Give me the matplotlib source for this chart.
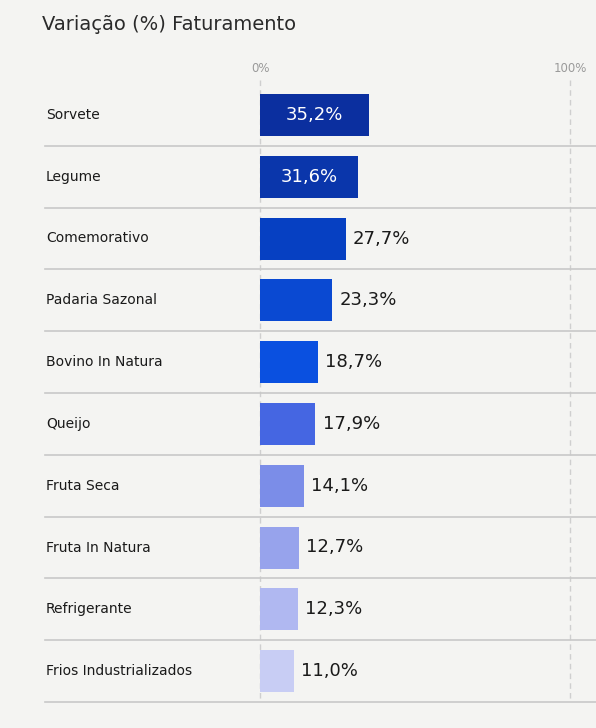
import matplotlib.pyplot as plt

categories = ['Sorvete', 'Legume', 'Comemorativo', 'Padaria Sazonal', 'Bovino In Natura',
              'Queijo', 'Fruta Seca', 'Fruta In Natura', 'Refrigerante', 'Frios Industrializados']
values = [35.2, 31.6, 27.7, 23.3, 18.7, 17.9, 14.1, 12.7, 12.3, 11.0]
colors = ['#0b2f9f', '#0a36ab', '#0640c2', '#0a49d2', '#0a50e0',
          '#4566e2', '#7b8de8', '#97a3ec', '#b0b8f1', '#c8cdf4']

bg = '#f4f4f2'
fig = plt.figure(figsize=(5.96, 7.28), dpi=100, facecolor=bg)
ax = fig.add_axes([0, 0, 1, 1])
ax.set_facecolor(bg)
scale = 3.1  # pixels per percent
ax.set_xlim(-260 / scale, (596 - 260) / scale)
ax.set_ylim(728, 0)
ax.axis('off')

row_h = 61.8
top = 84
for i, (c, v, col) in enumerate(zip(categories, values, colors)):
    yc = top + row_h * (i + 0.5)
    ax.barh(yc, v, height=42, color=col, left=0)
    ax.text(-214 / scale, yc, c, va='center', ha='left', fontsize=10, color='#1a1a1a')
    lbl = f'{v:.1f}%'.replace('.', ',')
    if i < 2:
        ax.text(v / 2, yc, lbl, va='center', ha='center', fontsize=13, color='white')
    else:
        ax.text(v + 2.3, yc, lbl, va='center', ha='left', fontsize=13, color='#1a1a1a')
    ax.plot([-215 / scale, 336 / scale], [top + row_h * (i + 1)] * 2, color='#c8c8c8', lw=1.2)

for x in (0, 100):
    ax.plot([x, x], [80, 701], color='#cfcfcf', lw=1, ls=(0, (4, 3)), zorder=0)
    ax.text(x, 68, f'{x}%', ha='center', va='center', fontsize=8.5, color='#9a9a9a')

ax.text(-218 / scale, 25, 'Variação (%) Faturamento', ha='left', va='center',
        fontsize=14, color='#2a2a2a')

fig.savefig('out.png', dpi=100, facecolor=bg)
